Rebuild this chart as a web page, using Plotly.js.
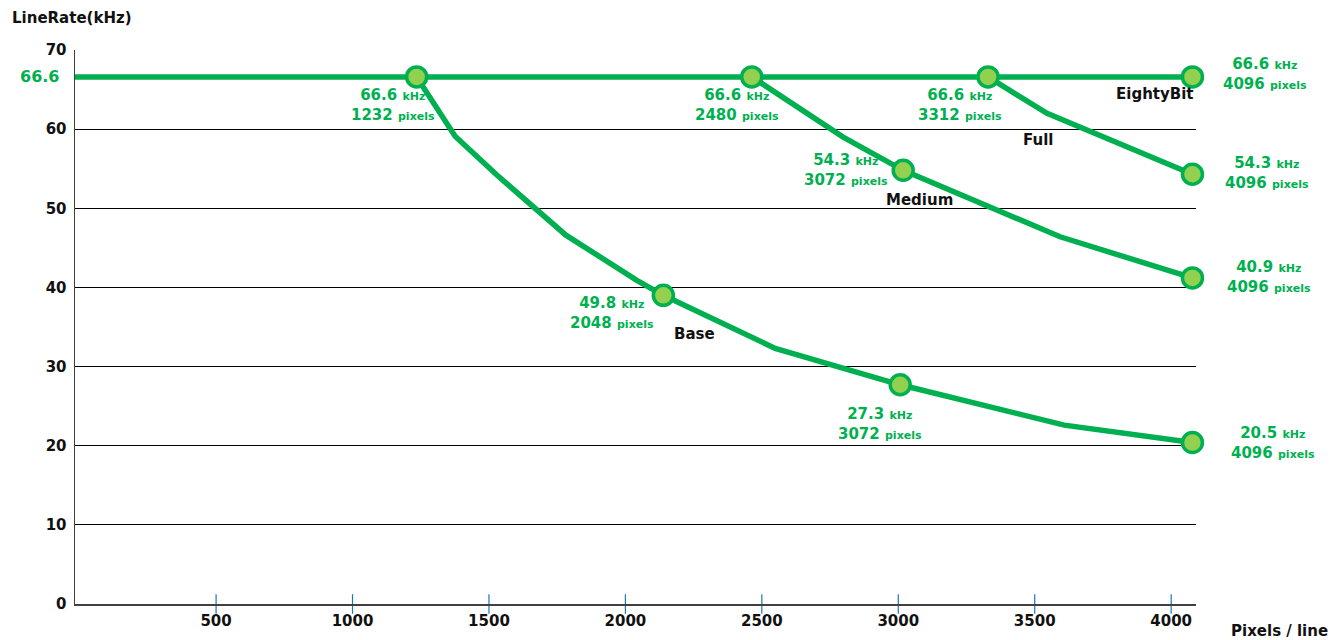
<!DOCTYPE html>
<html><head><meta charset="utf-8">
<script src="https://cdn.plot.ly/plotly-3.0.1.min.js"></script>
<style>html,body{margin:0;padding:0;background:#fff}#chart{width:1344px;height:640px}</style>
</head><body><div id="chart"></div>
<script>
// ---- data ----
const xTicks = [500, 1000, 1500, 2000, 2500, 3000, 3500, 4000];
const yTicks = [0, 10, 20, 30, 40, 50, 60, 70];

const baseX   = [1235, 1376, 1529, 1782, 2042, 2139, 2549, 3007, 3608, 4078];
const baseY   = [66.6, 59.1, 54.2, 46.6, 40.9, 39.0, 32.3, 27.7, 22.6, 20.4];
const mediumX = [2463, 2798, 3018, 3593, 4078];
const mediumY = [66.6, 59.0, 54.8, 46.4, 41.2];
const fullX   = [3329, 3545, 4078];
const fullY   = [66.6, 62.0, 54.3];
const eightyX = [-17, 4078];
const eightyY = [66.6, 66.6];

const seriesNames = ["Base", "Medium", "Full", "EightyBit"];
const baseMarks = [0, 5, 7, 9];
const mediumMarks = [0, 2, 4];
const fullMarks = [0, 2];
const eightyMarks = [1];

const labelKHz    = ["66.6", "66.6", "66.6", "54.3", "49.8", "27.3", "66.6", "54.3", "40.9", "20.5"];
const labelPixels = ["1232", "2480", "3312", "3072", "2048", "3072", "4096", "4096", "4096", "4096"];

// ---- layout helpers ----
const GREEN = "#00B050", LIGHT = "#92D050", FONT = "DejaVu Sans";
const X_RANGE = [-17, 4091];
const labelPos = [[1149, 63.0], [2409, 63.0], [3226, 63.0], [2809, 54.85], [1951, 36.8],
                  [2933, 22.8], [4344, 67.0], [4352, 54.4], [4359, 41.3], [4374, 20.4]];
const namePos = [[2255, 34.1], [3076, 51.0], [3513, 58.6], [3941, 64.4]];
function toPaperX(v) { return (v - X_RANGE[0]) / (X_RANGE[1] - X_RANGE[0]); }

function pick(arr, idx) { return idx.map(i => arr[i]); }
const lineStyle = {color: GREEN, width: 5.5};
const traces = [
  // axis tick marks crossing the x axis line
  {x: xTicks, y: xTicks.map(() => 0), mode: "markers", cliponaxis: false, hoverinfo: "skip",
   marker: {symbol: "line-ns-open", size: 14, line: {color: "#5B8BD0", width: 1.2}}},
  {x: baseX, y: baseY, mode: "lines", line: lineStyle, name: seriesNames[0]},
  {x: mediumX, y: mediumY, mode: "lines", line: lineStyle, name: seriesNames[1]},
  {x: fullX, y: fullY, mode: "lines", line: lineStyle, name: seriesNames[2]},
  {x: eightyX, y: eightyY, mode: "lines", line: lineStyle, name: seriesNames[3]},
  {x: [].concat(pick(baseX, baseMarks), pick(mediumX, mediumMarks), pick(fullX, fullMarks), pick(eightyX, eightyMarks)),
   y: [].concat(pick(baseY, baseMarks), pick(mediumY, mediumMarks), pick(fullY, fullMarks), pick(eightyY, eightyMarks)),
   mode: "markers", marker: {size: 20, color: LIGHT, line: {color: GREEN, width: 3.5}}, cliponaxis: false}
];

const annotations = [];
labelKHz.forEach((k, i) => {
  annotations.push({
    x: toPaperX(labelPos[i][0]), y: labelPos[i][1], xref: "paper", yref: "y", showarrow: false, align: "center",
    xanchor: "center", yanchor: "middle",
    text: "<b>" + k + " <span style='font-size:11px'>kHz</span></b><br><b>" + labelPixels[i] + " <span style='font-size:11px'>pixels</span></b>",
    font: {family: FONT, size: 15, color: GREEN}
  });
});
seriesNames.forEach((n, i) => {
  annotations.push({x: toPaperX(namePos[i][0]), y: namePos[i][1], xref: "paper", yref: "y", showarrow: false,
    xanchor: "center", yanchor: "middle",
    text: "<b>" + n + "</b>", font: {family: FONT, size: 15, color: "#111"}});
});
annotations.push({x: 0, y: 66.6, xref: "paper", yref: "y", xanchor: "right", xshift: -14, showarrow: false,
  text: "<b>66.6</b>", font: {family: FONT, size: 16, color: GREEN}});
annotations.push({x: -65 / 1121, y: 586 / 554, xref: "paper", yref: "paper", xanchor: "left", yanchor: "middle", showarrow: false,
  text: "<b>LineRate(kHz)</b>", font: {family: FONT, size: 15, color: "#111"}});
annotations.push({x: 1, y: 0, xref: "paper", yref: "paper", xanchor: "left", yanchor: "top", xshift: 33, yshift: -16, showarrow: false,
  text: "<b>Pixels / line</b>", font: {family: FONT, size: 15, color: "#111"}});

const tickFont = {family: FONT, size: 15, color: "#111", weight: "bold"};
const layout = {
  width: 1344, height: 640,
  margin: {l: 75, r: 148, t: 50, b: 36},
  paper_bgcolor: "#fff", plot_bgcolor: "#fff",
  showlegend: false, hovermode: false,
  xaxis: {range: X_RANGE, tickvals: xTicks, ticktext: xTicks.map(String), ticks: "", 
          showgrid: false, zeroline: false, showline: true,
          linecolor: "#404040", linewidth: 1.5, tickfont: tickFont, ticklabelstandoff: 2},
  yaxis: {range: [0, 70], tickvals: yTicks, ticktext: yTicks.map(String), showgrid: true, gridcolor: "#000", gridwidth: 1,
          zeroline: false, showline: true, linecolor: "#404040", linewidth: 1.5, ticks: "", tickfont: tickFont,
          ticklabelstandoff: 4},
  annotations: annotations
};
Plotly.newPlot("chart", traces, layout, {displayModeBar: false, staticPlot: true});
</script>
</body></html>
